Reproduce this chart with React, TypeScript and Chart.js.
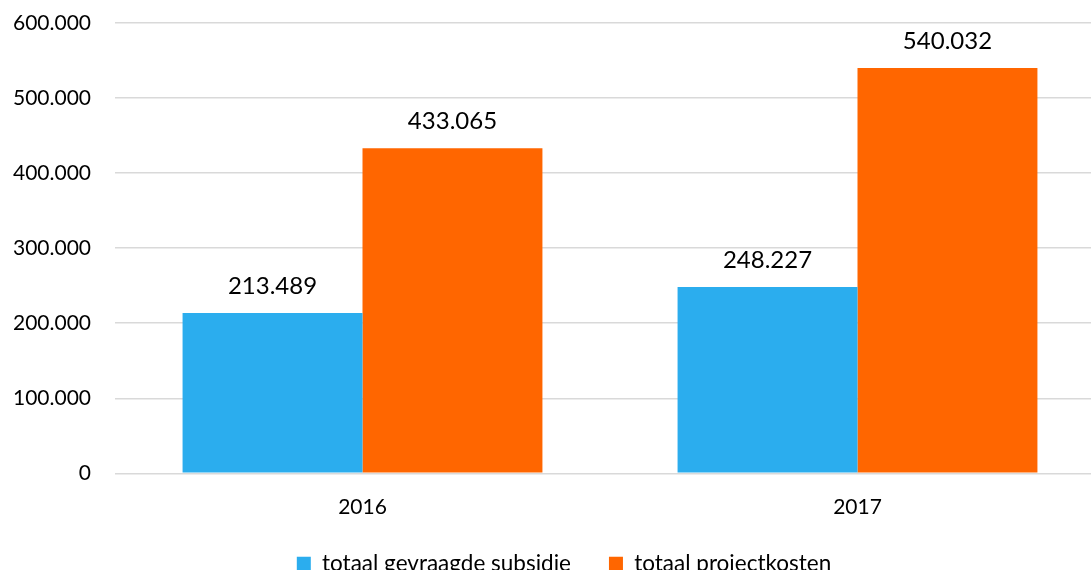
import React, { useEffect, useRef } from "react";
import { Chart, registerables } from "chart.js";

Chart.register(...registerables);

const categories = ["2016", "2017"];
const subsidie = [213489, 248227];
const projectkosten = [433065, 540032];
const seriesNames = ["totaal gevraagde subsidie", "totaal projectkosten"];
const yTicks = [0, 100000, 200000, 300000, 400000, 500000, 600000];

const fmt = (v: number) => String(Math.round(v)).replace(/\B(?=(\d{3})+(?!\d))/g, ".");

const valueLabels = {
  id: "valueLabels",
  afterDatasetsDraw(chart: any) {
    const ctx = chart.ctx;
    ctx.save();
    ctx.font = "24px Lato";
    ctx.fillStyle = "#000";
    ctx.textAlign = "center";
    ctx.textBaseline = "alphabetic";
    chart.data.datasets.forEach((ds: any, i: number) => {
      const meta = chart.getDatasetMeta(i);
      meta.data.forEach((bar: any, j: number) => {
        ctx.fillText(fmt(ds.data[j]), bar.x, bar.y - 19);
      });
    });
    ctx.restore();
  },
};

export default function App() {
  const ref = useRef<HTMLCanvasElement>(null);
  useEffect(() => {
    document.body.style.overflow = "hidden";
    const chart = new Chart(ref.current!, {
      type: "bar",
      data: {
        labels: categories,
        datasets: [
          { label: seriesNames[0], data: subsidie, backgroundColor: "#2BADEE" },
          { label: seriesNames[1], data: projectkosten, backgroundColor: "#FF6600" },
        ],
      },
      options: {
        animation: false,
        responsive: true,
        maintainAspectRatio: false,
        layout: { padding: { top: 23, left: 23, right: 0, bottom: 0 } },
        datasets: { bar: { categoryPercentage: 0.727, barPercentage: 1 } },
        plugins: {
          tooltip: { enabled: false },
          legend: {
            position: "bottom",
            labels: {
              font: { family: "Lato", size: 22.5 },
              color: "#000",
              boxWidth: 14,
              boxHeight: 14,
              padding: 38,
            },
          },
        },
        scales: {
          x: {
            grid: { display: false },
            border: { display: false },
            ticks: { font: { family: "Lato", size: 21 }, color: "#000", padding: 13 },
            afterFit: (s: any) => { s.height -= 18; },
          },
          y: {
            min: 0,
            max: 600000,
            afterFit: (s: any) => { s.width = 92; },
            afterBuildTicks: (s: any) => { s.ticks = yTicks.map((v) => ({ value: v })); },
            grid: { color: "#d9d9d9", lineWidth: 1.5, drawTicks: false },
            border: { display: false },
            ticks: {
              font: { family: "Lato", size: 21 },
              color: "#000",
              mirror: true,
              crossAlign: "far",
              padding: -102,
              callback: (v: any) => fmt(Number(v)),
            },
          },
        },
      },
      plugins: [valueLabels],
    });
    return () => chart.destroy();
  }, []);
  return (
    <div style={{ position: "fixed", left: 0, top: 0, width: 1105, height: 585 }}>
      <canvas ref={ref} />
    </div>
  );
}
